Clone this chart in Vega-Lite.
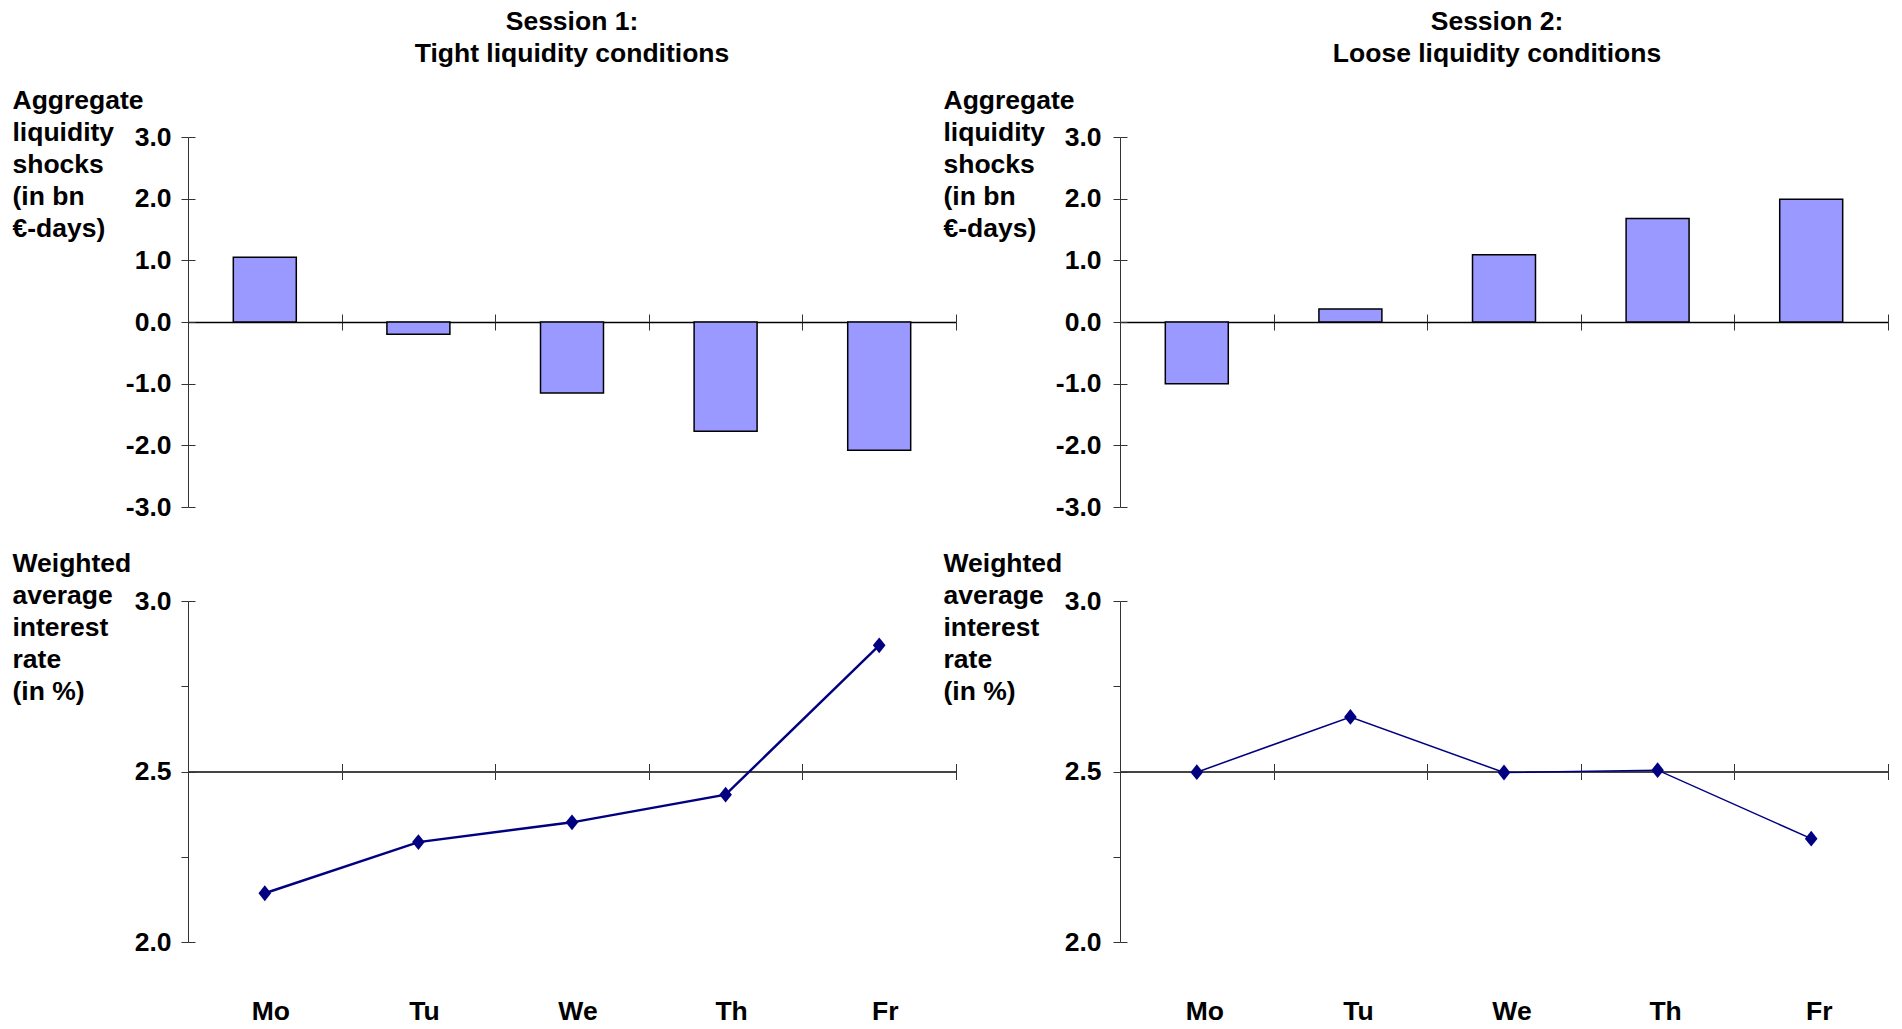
{
  "$schema": "https://vega.github.io/schema/vega-lite/v6.json",
  "padding": {"left": 12, "top": 8, "right": 5, "bottom": 5},
  "datasets": {
    "shocks": [
      {"session": 1, "day": "Mo", "value": 1.05},
      {"session": 1, "day": "Tu", "value": -0.2},
      {"session": 1, "day": "We", "value": -1.15},
      {"session": 1, "day": "Th", "value": -1.77},
      {"session": 1, "day": "Fr", "value": -2.08},
      {"session": 2, "day": "Mo", "value": -1.0},
      {"session": 2, "day": "Tu", "value": 0.21},
      {"session": 2, "day": "We", "value": 1.09},
      {"session": 2, "day": "Th", "value": 1.68},
      {"session": 2, "day": "Fr", "value": 1.99}
    ],
    "rates": [
      {"session": 1, "day": "Mo", "value": 2.143},
      {"session": 1, "day": "Tu", "value": 2.293},
      {"session": 1, "day": "We", "value": 2.351},
      {"session": 1, "day": "Th", "value": 2.432},
      {"session": 1, "day": "Fr", "value": 2.87},
      {"session": 2, "day": "Mo", "value": 2.498},
      {"session": 2, "day": "Tu", "value": 2.66},
      {"session": 2, "day": "We", "value": 2.497},
      {"session": 2, "day": "Th", "value": 2.504},
      {"session": 2, "day": "Fr", "value": 2.303}
    ]
  },
  "config": {
    "view": {"stroke": null},
    "font": "Liberation Sans",
    "axis": {
      "labelFont": "Liberation Sans", "labelFontSize": 26.5, "labelFontWeight": "bold", "labelColor": "black",
      "titleFont": "Liberation Sans", "titleFontSize": 26.5, "titleFontWeight": "bold", "titleColor": "black",
      "domainColor": "#333", "tickColor": "#333", "grid": false
    },
    "title": {"font": "Liberation Sans", "fontSize": 26.5, "fontWeight": "bold", "color": "black", "lineHeight": 32}
  },
  "bounds": "flush",
  "spacing": {"row": 94, "column": 164},
  "columns": 2,
  "concat": [
    {
      "title": {"text": ["Session 1:", "Tight liquidity conditions"], "frame": "group", "anchor": "middle", "offset": 20},
      "width": 768, "height": 370,
      "data": {"name": "shocks"},
      "transform": [{"filter": "datum.session == 1"}],
      "layer": [
        {
          "mark": {"type": "bar", "width": {"band": 0.41}, "fill": "#9999ff", "stroke": "black", "strokeWidth": 1.5},
          "encoding": {
            "x": {"field": "day", "type": "nominal", "sort": ["Mo", "Tu", "We", "Th", "Fr"], "scale": {"paddingInner": 0, "paddingOuter": 0},
                  "axis": {"orient": "bottom", "offset": -185, "labels": false, "title": null, "tickBand": "extent", "tickSize": 8, "domainColor": "black", "domainWidth": 1.5}},
            "y": {"field": "value", "type": "quantitative", "scale": {"domain": [-3, 3], "nice": false, "zero": false},
                  "axis": {"values": [-3, -2, -1, 0, 1, 2, 3], "labelExpr": "replace(format(datum.value, '.1f'), '\u2212', '-')", "tickSize": 7, "labelPadding": 10,
                           "title": ["Aggregate", "liquidity", "shocks", "(in bn", "€-days)"], "titleAngle": 0, "titleAlign": "left", "titleBaseline": "top", "titleX": -176, "titleY": -50, "titleLineHeight": 32}}
          }
        },
        {
          "mark": {"type": "bar", "width": {"band": 0.41}, "opacity": 0},
          "encoding": {
            "x": {"field": "day", "type": "nominal", "sort": ["Mo", "Tu", "We", "Th", "Fr"], "scale": {"paddingInner": 0, "paddingOuter": 0},
                  "axis": {"orient": "top", "offset": -185, "labels": false, "domain": false, "title": null, "tickBand": "extent", "tickSize": 8}},
            "y": {"field": "value", "type": "quantitative", "scale": {"domain": [-3, 3], "nice": false, "zero": false},
                  "axis": {"orient": "right", "offset": -768, "values": [-3, -2, -1, 0, 1, 2, 3], "labels": false, "domain": false, "title": null, "tickSize": 7}}
          }
        }
      ],
      "resolve": {"axis": {"x": "independent", "y": "independent"}}
    },
    {
      "title": {"text": ["Session 2:", "Loose liquidity conditions"], "frame": "group", "anchor": "middle", "offset": 20, "dx": -7},
      "width": 768, "height": 370,
      "data": {"name": "shocks"},
      "transform": [{"filter": "datum.session == 2"}],
      "layer": [
        {
          "mark": {"type": "bar", "width": {"band": 0.41}, "fill": "#9999ff", "stroke": "black", "strokeWidth": 1.5},
          "encoding": {
            "x": {"field": "day", "type": "nominal", "sort": ["Mo", "Tu", "We", "Th", "Fr"], "scale": {"paddingInner": 0, "paddingOuter": 0},
                  "axis": {"orient": "bottom", "offset": -185, "labels": false, "title": null, "tickBand": "extent", "tickSize": 8, "domainColor": "black", "domainWidth": 1.5}},
            "y": {"field": "value", "type": "quantitative", "scale": {"domain": [-3, 3], "nice": false, "zero": false},
                  "axis": {"values": [-3, -2, -1, 0, 1, 2, 3], "labelExpr": "replace(format(datum.value, '.1f'), '\u2212', '-')", "tickSize": 7, "labelPadding": 12,
                           "title": ["Aggregate", "liquidity", "shocks", "(in bn", "€-days)"], "titleAngle": 0, "titleAlign": "left", "titleBaseline": "top", "titleX": -177, "titleY": -50, "titleLineHeight": 32}}
          }
        },
        {
          "mark": {"type": "bar", "width": {"band": 0.41}, "opacity": 0},
          "encoding": {
            "x": {"field": "day", "type": "nominal", "sort": ["Mo", "Tu", "We", "Th", "Fr"], "scale": {"paddingInner": 0, "paddingOuter": 0},
                  "axis": {"orient": "top", "offset": -185, "labels": false, "domain": false, "title": null, "tickBand": "extent", "tickSize": 8}},
            "y": {"field": "value", "type": "quantitative", "scale": {"domain": [-3, 3], "nice": false, "zero": false},
                  "axis": {"orient": "right", "offset": -768, "values": [-3, -2, -1, 0, 1, 2, 3], "labels": false, "domain": false, "title": null, "tickSize": 7}}
          }
        }
      ],
      "resolve": {"axis": {"x": "independent", "y": "independent"}}
    },
    {
      "width": 768, "height": 341,
      "data": {"name": "rates"},
      "transform": [{"filter": "datum.session == 1"}],
      "layer": [
        {
          "mark": {"type": "line", "color": "#000080", "strokeWidth": 2.4, "point": {"shape": "M-0.8,0L0,-1L0.8,0L0,1Z", "size": 250, "filled": true, "color": "#000080", "opacity": 1}},
          "encoding": {
            "x": {"field": "day", "type": "nominal", "sort": ["Mo", "Tu", "We", "Th", "Fr"], "scale": {"paddingInner": 0, "paddingOuter": 0},
                  "axis": {"orient": "bottom", "domain": false, "ticks": false, "labelPadding": 56, "labelAngle": 0, "labelOffset": 6, "title": null}},
            "y": {"field": "value", "type": "quantitative", "scale": {"domain": [2, 3], "nice": false, "zero": false},
                  "axis": {"values": [2, 2.25, 2.5, 2.75, 3], "labelExpr": "datum.value % 0.5 == 0 ? format(datum.value, '.1f') : ''", "tickSize": 7, "labelPadding": 10,
                           "title": ["Weighted", "average", "interest", "rate", "(in %)"], "titleAngle": 0, "titleAlign": "left", "titleBaseline": "top", "titleX": -176, "titleY": -51, "titleLineHeight": 32}}
          }
        },
        {
          "mark": {"type": "point", "opacity": 0},
          "encoding": {
            "x": {"field": "day", "type": "nominal", "sort": ["Mo", "Tu", "We", "Th", "Fr"], "scale": {"paddingInner": 0, "paddingOuter": 0},
                  "axis": {"orient": "bottom", "offset": -170.5, "labels": false, "title": null, "tickBand": "extent", "tickSize": 8, "domainColor": "#444", "domainWidth": 2}},
            "y": {"field": "value", "type": "quantitative", "scale": {"domain": [2, 3], "nice": false, "zero": false},
                  "axis": {"orient": "right", "offset": -768, "values": [2, 2.5, 3], "labels": false, "domain": false, "title": null, "tickSize": 7}}
          }
        },
        {
          "mark": {"type": "point", "opacity": 0},
          "encoding": {
            "x": {"field": "day", "type": "nominal", "sort": ["Mo", "Tu", "We", "Th", "Fr"], "scale": {"paddingInner": 0, "paddingOuter": 0},
                  "axis": {"orient": "top", "offset": -170.5, "labels": false, "domain": false, "title": null, "tickBand": "extent", "tickSize": 8}},
            "y": {"field": "value", "type": "quantitative", "axis": null}
          }
        }
      ],
      "resolve": {"axis": {"x": "independent", "y": "independent"}}
    },
    {
      "width": 768, "height": 341,
      "data": {"name": "rates"},
      "transform": [{"filter": "datum.session == 2"}],
      "layer": [
        {
          "mark": {"type": "line", "color": "#000080", "strokeWidth": 1.5, "point": {"shape": "M-0.8,0L0,-1L0.8,0L0,1Z", "size": 250, "filled": true, "color": "#000080", "opacity": 1}},
          "encoding": {
            "x": {"field": "day", "type": "nominal", "sort": ["Mo", "Tu", "We", "Th", "Fr"], "scale": {"paddingInner": 0, "paddingOuter": 0},
                  "axis": {"orient": "bottom", "domain": false, "ticks": false, "labelPadding": 56, "labelAngle": 0, "labelOffset": 8, "title": null}},
            "y": {"field": "value", "type": "quantitative", "scale": {"domain": [2, 3], "nice": false, "zero": false},
                  "axis": {"values": [2, 2.25, 2.5, 2.75, 3], "labelExpr": "datum.value % 0.5 == 0 ? format(datum.value, '.1f') : ''", "tickSize": 7, "labelPadding": 12,
                           "title": ["Weighted", "average", "interest", "rate", "(in %)"], "titleAngle": 0, "titleAlign": "left", "titleBaseline": "top", "titleX": -177, "titleY": -51, "titleLineHeight": 32}}
          }
        },
        {
          "mark": {"type": "point", "opacity": 0},
          "encoding": {
            "x": {"field": "day", "type": "nominal", "sort": ["Mo", "Tu", "We", "Th", "Fr"], "scale": {"paddingInner": 0, "paddingOuter": 0},
                  "axis": {"orient": "bottom", "offset": -170.5, "labels": false, "title": null, "tickBand": "extent", "tickSize": 8, "domainColor": "#444", "domainWidth": 2}},
            "y": {"field": "value", "type": "quantitative", "scale": {"domain": [2, 3], "nice": false, "zero": false},
                  "axis": {"orient": "right", "offset": -768, "values": [2, 2.5, 3], "labels": false, "domain": false, "title": null, "tickSize": 7}}
          }
        },
        {
          "mark": {"type": "point", "opacity": 0},
          "encoding": {
            "x": {"field": "day", "type": "nominal", "sort": ["Mo", "Tu", "We", "Th", "Fr"], "scale": {"paddingInner": 0, "paddingOuter": 0},
                  "axis": {"orient": "top", "offset": -170.5, "labels": false, "domain": false, "title": null, "tickBand": "extent", "tickSize": 8}},
            "y": {"field": "value", "type": "quantitative", "axis": null}
          }
        }
      ],
      "resolve": {"axis": {"x": "independent", "y": "independent"}}
    }
  ]
}
